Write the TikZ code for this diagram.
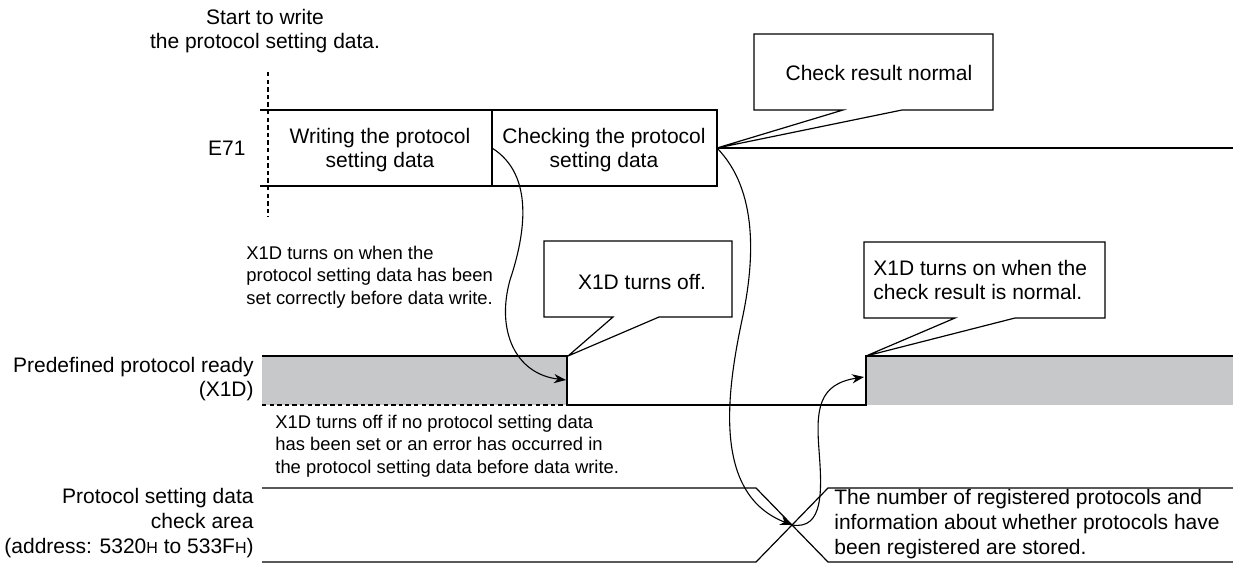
\documentclass[tikz,border=0pt]{standalone}
\usepackage{fontspec}
\setmainfont{Liberation Sans}
\usepackage{tikz}
\usetikzlibrary{arrows.meta}
\definecolor{ongray}{RGB}{199,200,202}
\newcommand\bigtxt{\fontsize{10.5}{12.4}\selectfont}
\newcommand\smalltxt{\fontsize{9.2}{11.2}\selectfont}

\begin{document}
\begin{tikzpicture}[
  x=0.5pt, y=-0.5pt,
  font=\bigtxt,
  sig/.style={line width=0.6pt},
  vdash/.style={line width=0.6pt, dash pattern=on 2.2pt off 1.6pt},
  callout/.style={line width=0.6pt, fill=white},
  lbl/.style={anchor=east, align=right, inner sep=0pt},
  txt/.style={align=center, inner sep=0pt},
  note/.style={anchor=west, align=left, inner sep=0pt, font=\smalltxt},
  flow/.style={line width=0.55pt, -{Stealth[length=6pt, width=4.6pt]}},
]
\useasboundingbox (0,0) rectangle (1233,564);
% start marker
\node[txt] (start) at (265,31) {Start to write\\the protocol setting data.};
\draw[vdash] (268,72) -- (268,217);
% E71 row
\node[lbl] (e71) at (246,148) {E71};
\draw[sig] (260,110) -- (717,110) -- (717,186) -- (260,186);
\draw[sig] (492,110) -- (492,186);
\draw[sig] (717,148) -- (1233,148);
\node[txt] (wrtxt) at (380,150) {Writing the protocol\\setting data};
\node[txt] (chktxt) at (604,150) {Checking the protocol\\setting data};
\coordinate (wrend) at (492,148);
\coordinate (chkend) at (717,148);
% callout: check result
\draw[callout] (754,34) -- (993,34) -- (993,110) -- (902,110) -- (chkend)
  -- (843,110) -- (754,110) -- cycle;
\node[txt] (chkok) at (879,73) {Check result normal};
% X1D notes and callouts
\node[note] (onnote) at (246,277) {X1D turns on when the\\protocol setting data has been\\set correctly before data write.};
\draw[callout] (544,241) -- (732,241) -- (732,317) -- (659,317) -- (568,356)
  -- (613,317) -- (544,317) -- cycle;
\node[txt] (offtxt) at (642,282) {X1D turns off.};
\draw[callout] (864,242) -- (1105,242) -- (1105,318) -- (1015,318) -- (866,356)
  -- (955,318) -- (864,318) -- cycle;
\node[txt, anchor=west, align=left] (ontxt) at (873,280) {X1D turns on when the\\check result is normal.};
% X1D signal
\fill[ongray] (262,356) rectangle (567,405);
\fill[ongray] (866,356) rectangle (1233,405);
\draw[sig] (262,356) -- (567,356) -- (567,405) -- (866,405) -- (866,356) -- (1233,356);
\draw[vdash] (262,405) -- (567,405);
\node[lbl] (x1dlbl) at (254,379) {Predefined protocol ready\\(X1D)};
\node[note] (offnote) at (275,446) {X1D turns off if no protocol setting data\\has been set or an error has occurred in\\the protocol setting data before data write.};
% check area
\draw[sig] (262,488) -- (756,488) -- (828,562) -- (1233,562);
\draw[sig] (262,562) -- (756,562) -- (828,488) -- (1233,488);
\coordinate (cross) at (792,525);
\node[lbl] (arealbl) at (254,523) {Protocol setting data\\check area\\(address: 5320{\footnotesize H} to 533F{\footnotesize H})};
\node[txt, anchor=west, align=left] (stored) at (834,524) {The number of registered protocols and\\information about whether protocols have\\been registered are stored.};
% flow arrows
\coordinate (offtip) at (566,380);
\coordinate (ontip) at (864,377);
\draw[flow] (wrend) .. controls (535,175) and (525,235) .. (510,280)
  .. controls (496,330) and (515,374) .. (offtip);
\draw[flow] (chkend) .. controls (758,190) and (755,260) .. (742,320)
  .. controls (725,400) and (715,495) .. (cross);
\draw[flow] (cross) .. controls (824,530) and (822,490) .. (819,450)
  .. controls (816,410) and (818,384) .. (ontip);
\end{tikzpicture}
\end{document}
